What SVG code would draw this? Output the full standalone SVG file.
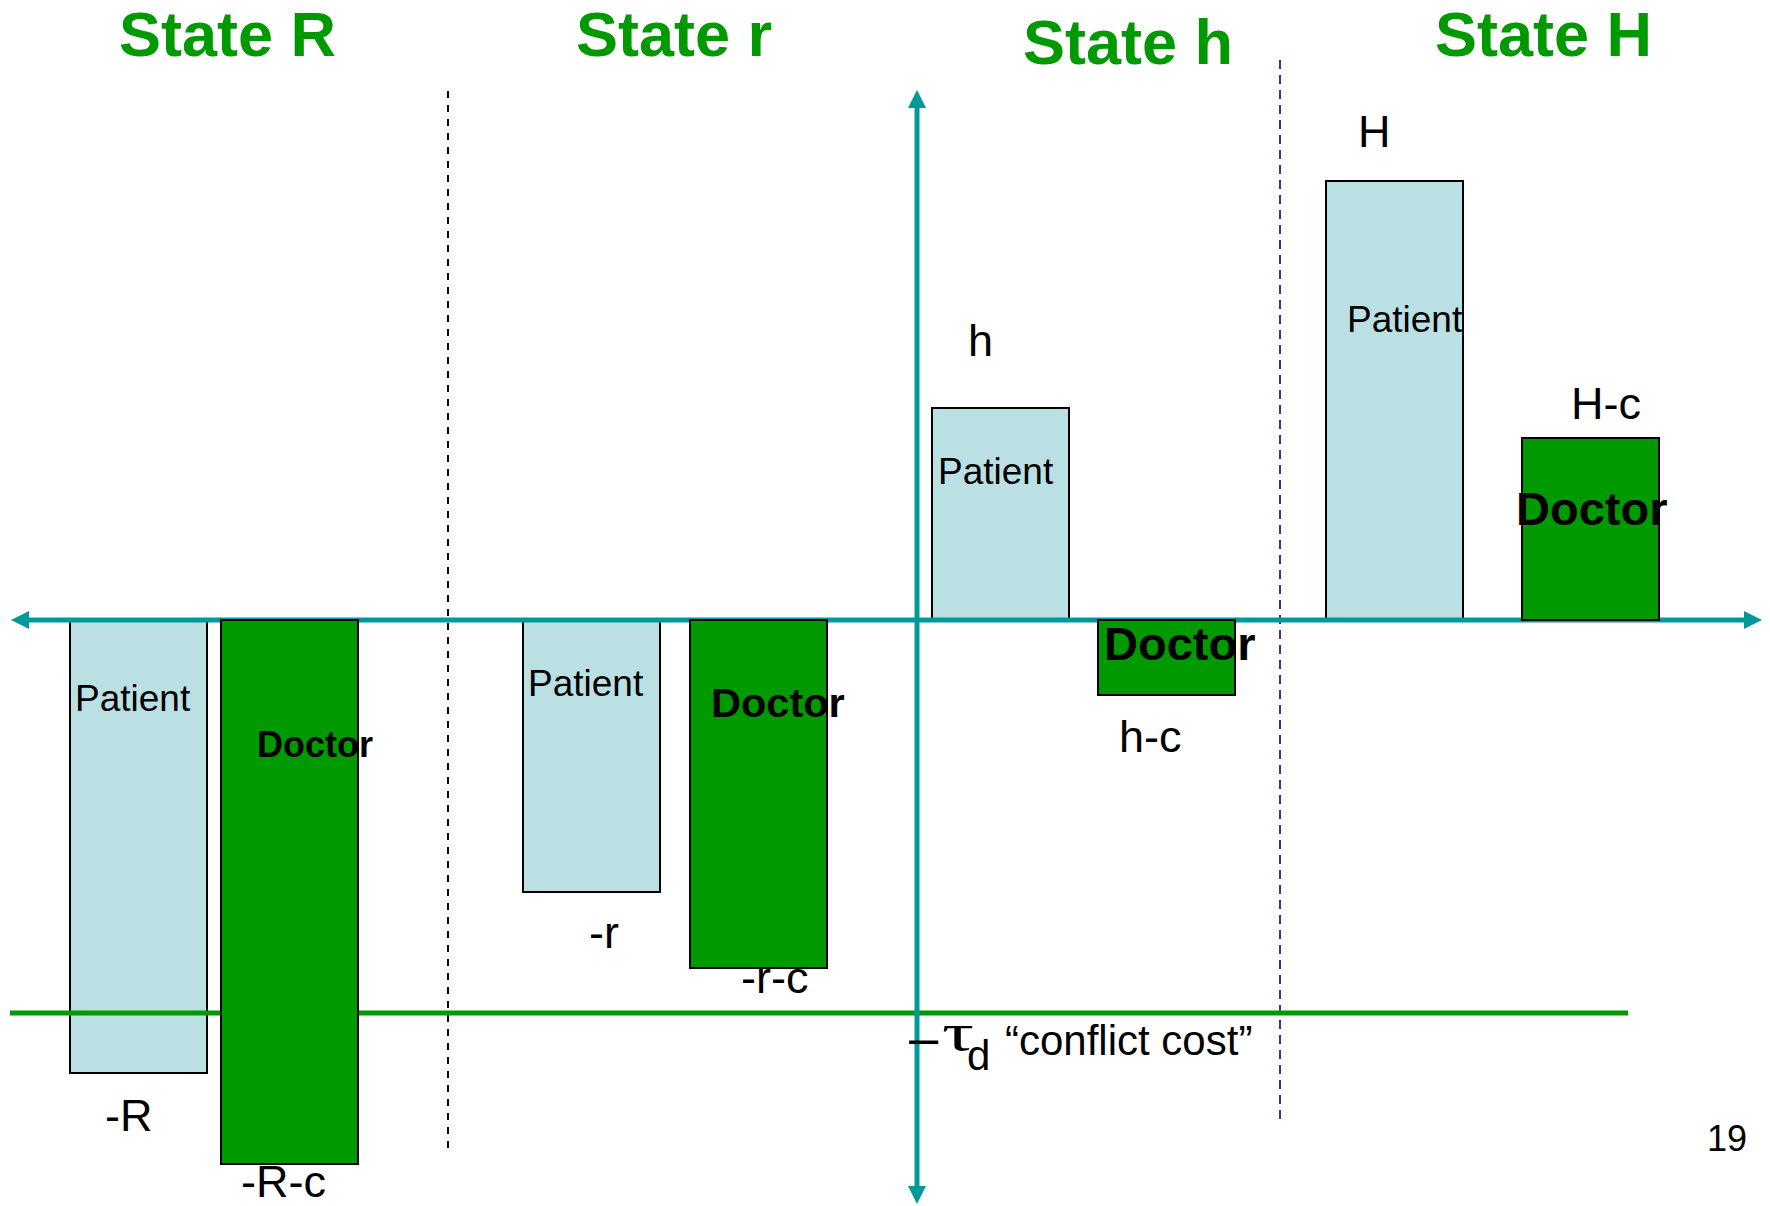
<svg xmlns="http://www.w3.org/2000/svg" width="1770" height="1206" viewBox="0 0 1770 1206">
<style>
text { font-family: "Liberation Sans", Arial, sans-serif; fill: #000; }
.title { font-size: 63px; font-weight: bold; fill: #009900; }
.pbox { fill: #BBE0E3; stroke: #000; stroke-width: 2; }
.dbox { fill: #009900; stroke: #000; stroke-width: 2; }
.ptxt { font-size: 37px; }
.dtxt { font-weight: bold; }
.lbl { font-size: 45px; }
.axis { stroke: #009999; stroke-width: 5; fill: none; }
.cost { stroke: #009900; stroke-width: 5; }
.sepk { stroke: #000; stroke-width: 2; stroke-dasharray: 7 7; }
.sepb { stroke: #333399; stroke-width: 2; stroke-dasharray: 9 6; }
</style>
<defs>
<marker id="arr" viewBox="0 -9 18 18" refX="0" refY="0" markerWidth="18" markerHeight="18" markerUnits="userSpaceOnUse" orient="auto-start-reverse">
<path d="M0,-9 L18,0 L0,9 z" fill="#009999"/>
</marker>
</defs>
<rect width="1770" height="1206" fill="#fff"/>

<g id="titles">
<text class="title" x="119" y="56">State R</text>
<text class="title" x="576" y="56">State r</text>
<text class="title" x="1023" y="64">State h</text>
<text class="title" x="1435" y="56">State H</text>
</g>

<g id="separators">
<line class="sepk" x1="448" y1="91" x2="448" y2="1148"/>
<line class="sepb" x1="1280" y1="60" x2="1280" y2="1120"/>
</g>

<g id="patient-R"><rect class="pbox" x="70" y="620" width="137" height="453"/><text class="ptxt" x="75" y="711">Patient</text><text class="lbl" x="105" y="1131">-R</text></g>
<g id="patient-r"><rect class="pbox" x="523" y="620" width="137" height="272"/><text class="ptxt" x="528" y="696">Patient</text><text class="lbl" x="589" y="948">-r</text></g>
<g id="patient-h"><rect class="pbox" x="932" y="408" width="137" height="212"/><text class="ptxt" x="938" y="484">Patient</text><text class="lbl" x="968" y="356">h</text></g>
<g id="patient-H"><rect class="pbox" x="1326" y="181" width="137" height="439"/><text class="ptxt" x="1347" y="332">Patient</text><text class="lbl" x="1358" y="147">H</text></g>

<g id="connectors">
<line class="axis" x1="29" y1="620" x2="1744" y2="620" marker-start="url(#arr)" marker-end="url(#arr)"/>
<line class="cost" x1="10" y1="1013" x2="1628" y2="1013"/>
<line class="axis" x1="917" y1="1186" x2="917" y2="108" marker-start="url(#arr)" marker-end="url(#arr)"/>
</g>

<g id="doctor-R"><rect class="dbox" x="221" y="620" width="137" height="544"/><text class="dtxt" x="257" y="757" font-size="36">Doctor</text><text class="lbl" x="241" y="1197">-R-c</text></g>
<g id="doctor-r"><rect class="dbox" x="690" y="620" width="137" height="348"/><text class="dtxt" x="711" y="717" font-size="41.5">Doctor</text><text class="lbl" x="741" y="993">-r-c</text></g>
<g id="doctor-h"><rect class="dbox" x="1098" y="620" width="137" height="75"/><text class="dtxt" x="1104" y="660" font-size="47">Doctor</text><text class="lbl" x="1119" y="752">h-c</text></g>
<g id="doctor-H"><rect class="dbox" x="1522" y="438" width="137" height="182"/><text class="dtxt" x="1516" y="525" font-size="47">Doctor</text><text class="lbl" x="1571" y="419">H-c</text></g>

<g id="conflict-cost">
<text x="906" y="1059" font-size="50" textLength="35" lengthAdjust="spacingAndGlyphs">−</text>
<text x="942" y="1050" font-size="52" textLength="32" lengthAdjust="spacingAndGlyphs" style="font-family:'Liberation Serif',serif">τ</text>
<text x="967" y="1070" font-size="42">d</text>
<text x="1005" y="1055" font-size="42">“conflict cost”</text>
</g>

<text x="1707" y="1151" font-size="36">19</text>
</svg>
